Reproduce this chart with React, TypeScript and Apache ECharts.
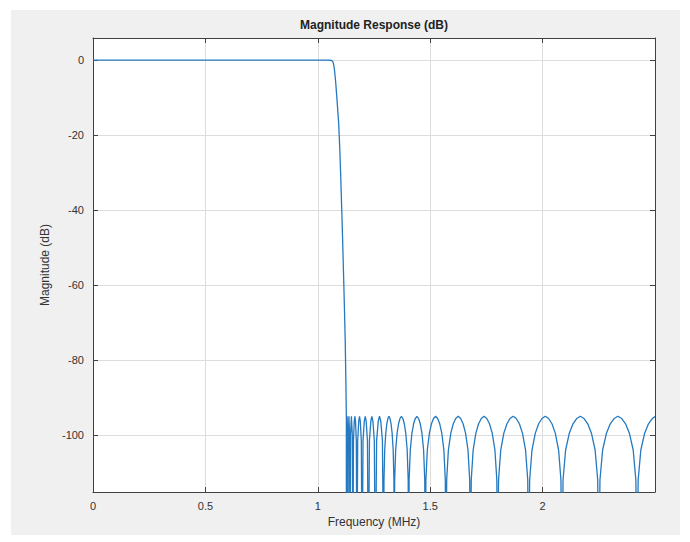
import React, { useEffect, useRef } from "react";
import * as echarts from "echarts";

const titleText = "Magnitude Response (dB)";
const xName = "Frequency (MHz)";
const yName = "Magnitude (dB)";
const xMin = 0;
const xMax = 2.5;
const yMin = -115.2;
const yMax = 5.9;
const xTickValues = [0, 0.5, 1, 1.5, 2];
const yTickValues = [-100, -80, -60, -40, -20, 0];

// passband (flat at 0 dB)
const passband: [number, number][] = [
  [0, 0],
  [1.05, 0],
];

// transition band
const transition: [number, number][] = [
  [1.062, -0.1], [1.067, -0.4], [1.07, -1.0], [1.074, -2.5], [1.079, -5.5],
  [1.086, -11], [1.093, -17], [1.098, -24], [1.102, -31], [1.106, -39],
  [1.11, -47], [1.114, -56], [1.118, -65], [1.122, -75], [1.125, -86], [1.127, -95],
];

// stopband lobes (nulls fall below the axis floor)
const stopband: [number, number][] = [
  [1.127, -140],
  [1.1284, -100], [1.1305, -95], [1.1326, -100], [1.134, -140],
  [1.1358, -100], [1.1385, -95], [1.1412, -100], [1.143, -140],
  [1.1456, -100], [1.1495, -95], [1.1534, -100], [1.156, -140],
  [1.1587, -101.5], [1.1623, -96.3], [1.165, -95], [1.1677, -96.3], [1.1713, -101.5], [1.174, -140],
  [1.1775, -101.5], [1.1821, -96.3], [1.1855, -95], [1.189, -96.3], [1.1936, -101.5], [1.197, -140],
  [1.2012, -101.5], [1.2068, -96.3], [1.211, -95], [1.2152, -96.3], [1.2208, -101.5], [1.225, -140],
  [1.2297, -101.5], [1.2359, -96.3], [1.2405, -95], [1.2452, -96.3], [1.2514, -101.5], [1.256, -140],
  [1.2616, -101.5], [1.269, -96.3], [1.2745, -95], [1.2801, -96.3], [1.2875, -101.5], [1.293, -140],
  [1.2944, -112], [1.2977, -104], [1.3024, -99.5], [1.3071, -97], [1.3118, -95.6], [1.3165, -95],
  [1.3212, -95.6], [1.3259, -97], [1.3306, -99.5], [1.3353, -104], [1.3386, -112], [1.34, -140],
  [1.3419, -112], [1.3464, -104], [1.3528, -99.5], [1.3592, -97], [1.3656, -95.6], [1.372, -95],
  [1.3784, -95.6], [1.3848, -97], [1.3912, -99.5], [1.3976, -104], [1.4021, -112], [1.404, -140],
  [1.4062, -112], [1.4114, -104], [1.4188, -99.5], [1.4262, -97], [1.4336, -95.6], [1.441, -95],
  [1.4484, -95.6], [1.4558, -97], [1.4632, -99.5], [1.4706, -104], [1.4758, -112], [1.478, -140],
  [1.4808, -112], [1.4872, -104], [1.4964, -99.5], [1.5056, -97], [1.5148, -95.6], [1.524, -95],
  [1.5332, -95.6], [1.5424, -97], [1.5516, -99.5], [1.5608, -104], [1.5672, -112], [1.57, -140],
  [1.5733, -112], [1.5809, -104], [1.5918, -99.5], [1.6027, -97], [1.6136, -95.6], [1.6245, -95],
  [1.6354, -95.6], [1.6463, -97], [1.6572, -99.5], [1.6681, -104], [1.6757, -112], [1.679, -140],
  [1.6826, -112], [1.6911, -104], [1.7032, -99.5], [1.7153, -97], [1.7274, -95.6], [1.7395, -95],
  [1.7516, -95.6], [1.7637, -97], [1.7758, -99.5], [1.7879, -104], [1.7964, -112], [1.8, -140],
  [1.8041, -112], [1.8138, -104], [1.8276, -99.5], [1.8414, -97], [1.8552, -95.6], [1.869, -95],
  [1.8828, -95.6], [1.8966, -97], [1.9104, -99.5], [1.9242, -104], [1.9339, -112], [1.938, -140],
  [1.9424, -112], [1.9528, -104], [1.9676, -99.5], [1.9824, -97], [1.9972, -95.6], [2.012, -95],
  [2.0268, -95.6], [2.0416, -97], [2.0564, -99.5], [2.0712, -104], [2.0816, -112], [2.086, -140],
  [2.0909, -112], [2.1024, -104], [2.1188, -99.5], [2.1352, -97], [2.1516, -95.6], [2.168, -95],
  [2.1844, -95.6], [2.2008, -97], [2.2172, -99.5], [2.2336, -104], [2.2451, -112], [2.25, -140],
  [2.2551, -112], [2.267, -104], [2.284, -99.5], [2.301, -97], [2.318, -95.6], [2.335, -95],
  [2.352, -95.6], [2.369, -97], [2.386, -99.5], [2.403, -104], [2.4149, -112], [2.42, -140],
  [2.4251, -112], [2.437, -104], [2.454, -99.5], [2.471, -97], [2.488, -95.6], [2.5, -95.1],
];

const FONT = "'Liberation Sans', Arial, Helvetica, sans-serif";
const AXIS_COLOR = "#404040";
const TEXT_COLOR = "#333333";
const GRID_COLOR = "#dddddd";
const LINE_COLOR = "#2479c0";

const GRID = { left: 93, top: 38, width: 562, height: 454 };

export default function App() {
  const ref = useRef<HTMLDivElement>(null);

  useEffect(() => {
    if (!ref.current) return;
    const chart = echarts.init(ref.current, null, { renderer: "svg" });
    const data = [...passband, ...transition, ...stopband];

    const axisLine = { show: true, onZero: false, lineStyle: { color: AXIS_COLOR, width: 1 } };

    chart.setOption({
      animation: false,
      backgroundColor: "#ffffff",
      textStyle: { fontFamily: FONT },
      graphic: [
        {
          type: "rect",
          z: -20,
          silent: true,
          shape: { x: 11, y: 10, width: 669, height: 525 },
          style: { fill: "#f0f0f0" },
        },
        {
          type: "rect",
          z: -19,
          silent: true,
          shape: { x: GRID.left, y: GRID.top, width: GRID.width, height: GRID.height },
          style: { fill: "#ffffff" },
        },
        {
          type: "text",
          x: GRID.left + GRID.width / 2,
          y: 25,
          style: {
            text: titleText,
            font: `bold 12px ${FONT}`,
            fill: "#222222",
            textAlign: "center",
            textVerticalAlign: "middle",
          },
        },
      ],
      grid: { ...GRID, containLabel: false },
      xAxis: [
        {
          type: "value",
          min: xMin,
          max: xMax,
          position: "bottom",
          name: xName,
          nameLocation: "middle",
          nameGap: 24,
          nameTextStyle: { color: TEXT_COLOR, fontSize: 12, fontFamily: FONT },
          axisLine,
          axisTick: { show: true, inside: true, length: 5, customValues: xTickValues, lineStyle: { color: AXIS_COLOR } },
          axisLabel: { customValues: xTickValues, color: TEXT_COLOR, fontSize: 11, margin: 8, fontFamily: FONT },
          splitLine: { show: true, lineStyle: { color: GRID_COLOR, width: 1 } },
        },
        {
          type: "value",
          min: xMin,
          max: xMax,
          position: "top",
          axisLine,
          axisTick: { show: true, inside: true, length: 5, customValues: xTickValues, lineStyle: { color: AXIS_COLOR } },
          axisLabel: { show: false },
          splitLine: { show: false },
        },
      ],
      yAxis: [
        {
          type: "value",
          min: yMin,
          max: yMax,
          position: "left",
          name: yName,
          nameLocation: "middle",
          nameGap: 41,
          nameTextStyle: { color: TEXT_COLOR, fontSize: 12, fontFamily: FONT },
          axisLine,
          axisTick: { show: true, inside: true, length: 5, customValues: yTickValues, lineStyle: { color: AXIS_COLOR } },
          axisLabel: { customValues: yTickValues, color: TEXT_COLOR, fontSize: 11, margin: 9, fontFamily: FONT },
          splitLine: { show: true, lineStyle: { color: GRID_COLOR, width: 1 } },
        },
        {
          type: "value",
          min: yMin,
          max: yMax,
          position: "right",
          axisLine,
          axisTick: { show: true, inside: true, length: 5, customValues: yTickValues, lineStyle: { color: AXIS_COLOR } },
          axisLabel: { show: false },
          splitLine: { show: false },
        },
      ],
      series: [
        {
          type: "line",
          xAxisIndex: 0,
          yAxisIndex: 0,
          data,
          showSymbol: false,
          symbol: "none",
          clip: true,
          lineStyle: { color: LINE_COLOR, width: 1.3 },
          emphasis: { disabled: true },
        },
      ],
    });

    return () => chart.dispose();
  }, []);

  return (
    <div
      ref={ref}
      style={{ position: "absolute", left: 0, top: 0, width: 690, height: 542 }}
    />
  );
}
